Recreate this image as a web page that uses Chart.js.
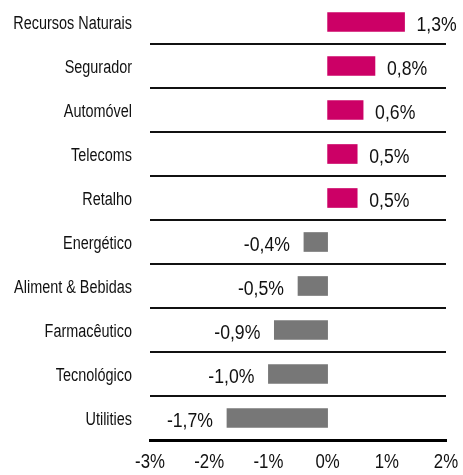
<!DOCTYPE html>
<html>
<head>
<meta charset="utf-8">
<script src="https://cdn.jsdelivr.net/npm/chart.js@4.4.0/dist/chart.umd.min.js"></script>
<style>
  html, body { margin: 0; padding: 0; background: #fff; }
  #wrap { width: 463px; height: 475px; }
</style>
</head>
<body>
<div id="wrap"><canvas id="chart1"></canvas></div>
<script>
// sectores e variacoes (%)
const sectores = ['Recursos Naturais', 'Segurador', 'Automóvel', 'Telecoms', 'Retalho',
  'Energético', 'Aliment & Bebidas', 'Farmacêutico', 'Tecnológico', 'Utilities'];
const variacoes = [1.3, 0.8, 0.6, 0.5, 0.5, -0.4, -0.5, -0.9, -1.0, -1.7];
const ticksX = [-3, -2, -1, 0, 1, 2];

const corPos = '#cc0066';
const corNeg = '#777777';
const corTexto = '#111';
const fonte = '"Liberation Sans", Arial, sans-serif';

function fmt(v) {
  return v.toFixed(1).replace('.', ',') + '%';
}

// texto estreito (tipo Arial Narrow): escalar so na horizontal
function textoEstreito(ctx, txt, x, y, tam, esc, alinh) {
  ctx.save();
  ctx.translate(x, y);
  ctx.scale(esc, 1);
  ctx.font = tam + 'px ' + fonte;
  ctx.textAlign = alinh;
  ctx.textBaseline = 'alphabetic';
  ctx.fillStyle = corTexto;
  ctx.fillText(txt, 0, 0);
  ctx.restore();
}

// nomes dos sectores, valores e eixo x desenhados a mao
const textos = {
  id: 'textos',
  afterDraw(chart) {
    const ctx = chart.ctx;
    const sx = chart.scales.x;
    const sy = chart.scales.y;
    const meta = chart.getDatasetMeta(0);

    sectores.forEach(function (s, i) {
      textoEstreito(ctx, s, sx.left - 18, sy.getPixelForValue(i) + 7, 17.6, 0.82, 'right');
    });

    meta.data.forEach(function (bar, i) {
      const v = variacoes[i];
      if (v >= 0) {
        textoEstreito(ctx, fmt(v), bar.x + 12, bar.y + 8.5, 20.5, 0.86, 'left');
      } else {
        textoEstreito(ctx, fmt(v), bar.x - 14, bar.y + 8.5, 20.5, 0.86, 'right');
      }
    });

    ticksX.forEach(function (t) {
      textoEstreito(ctx, t + '%', sx.getPixelForValue(t), 468, 20, 0.84, 'center');
    });
  }
};

new Chart(document.getElementById('chart1').getContext('2d'), {
  type: 'bar',
  data: {
    labels: sectores,
    datasets: [{
      data: variacoes,
      backgroundColor: variacoes.map(v => v >= 0 ? corPos : corNeg),
      barThickness: 19
    }]
  },
  plugins: [textos],
  options: {
    indexAxis: 'y',
    responsive: true,
    maintainAspectRatio: false,
    animation: false,
    layout: { padding: { top: 0, right: 17, bottom: 35, left: 0 } },
    plugins: {
      legend: { display: false },
      tooltip: { enabled: false }
    },
    scales: {
      x: {
        min: ticksX[0],
        max: ticksX[ticksX.length - 1],
        afterFit: function (scale) { scale.height = 0; },
        ticks: { display: false, stepSize: 1 },
        grid: { display: false },
        border: { display: true, color: '#000', width: 3 }
      },
      y: {
        afterFit: function (scale) { scale.width = 150; },
        ticks: { display: false },
        grid: {
          drawTicks: false,
          lineWidth: 2,
          color: function (c) {
            // sem linha no topo
            return c.index === 0 ? 'rgba(0,0,0,0)' : '#111';
          }
        },
        border: { display: false }
      }
    }
  }
});
</script>
</body>
</html>
